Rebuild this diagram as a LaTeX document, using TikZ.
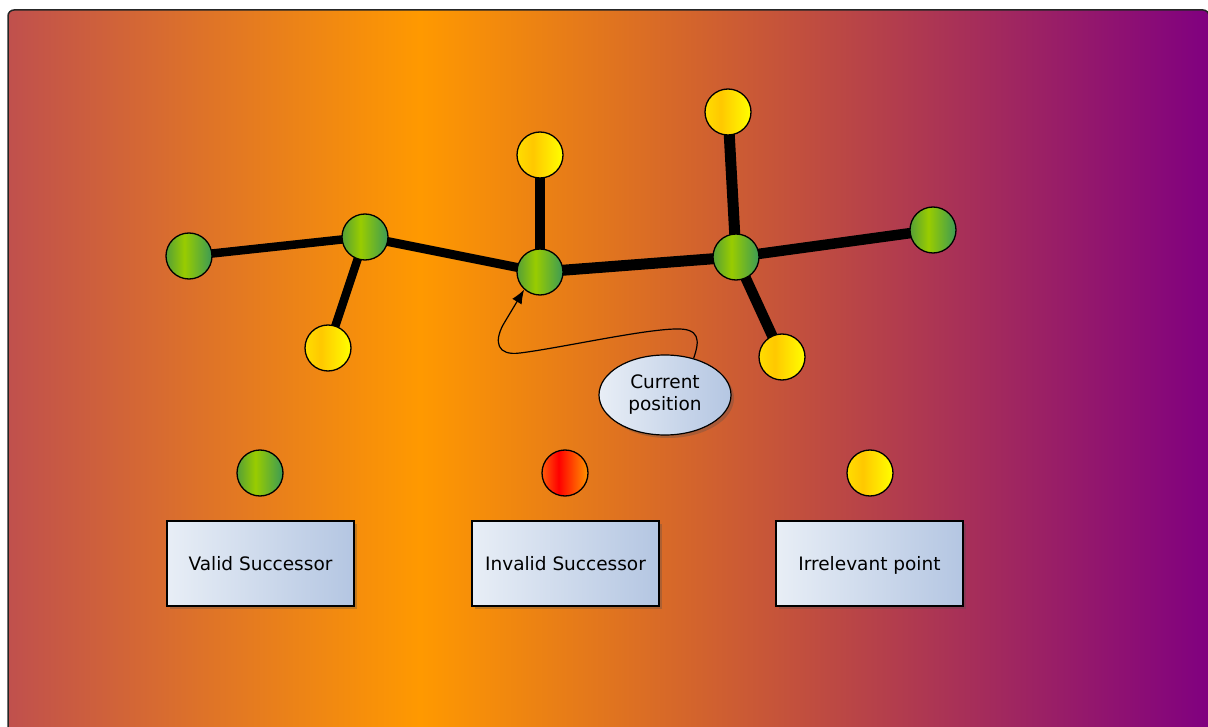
\documentclass[tikz,border=0pt]{standalone}
\usepackage{fontspec}
\setmainfont{DejaVu Sans}
\usetikzlibrary{shapes.geometric,shadows,arrows.meta}
\pgfdeclarelayer{bg}
\pgfdeclarelayer{edges}
\pgfsetlayers{bg,edges,main}
\definecolor{bgA}{RGB}{192,80,77}
\definecolor{bgB}{RGB}{255,153,0}
\definecolor{bgC}{RGB}{128,0,128}
\definecolor{gA}{RGB}{85,160,55}
\definecolor{gB}{RGB}{153,204,0}
\definecolor{gC}{RGB}{60,155,85}
\definecolor{yA}{RGB}{255,221,0}
\definecolor{yB}{RGB}{255,200,0}
\definecolor{yC}{RGB}{255,255,0}
\definecolor{rA}{RGB}{255,90,10}
\definecolor{rB}{RGB}{255,0,0}
\definecolor{rC}{RGB}{255,150,0}
\definecolor{boxA}{RGB}{232,238,246}
\definecolor{boxB}{RGB}{180,198,226}
\pgfdeclarehorizontalshading{bgshade}{100bp}{color(0bp)=(bgA); color(25bp)=(bgA); color(42.15bp)=(bgB); color(75bp)=(bgC); color(100bp)=(bgC)}
\pgfdeclarehorizontalshading{greenball}{100bp}{color(0bp)=(gA); color(25bp)=(gA); color(45bp)=(gB); color(75bp)=(gC); color(100bp)=(gC)}
\pgfdeclarehorizontalshading{yellowball}{100bp}{color(0bp)=(yA); color(25bp)=(yA); color(42bp)=(yB); color(75bp)=(yC); color(100bp)=(yC)}
\pgfdeclarehorizontalshading{redball}{100bp}{color(0bp)=(rA); color(25bp)=(rA); color(43bp)=(rB); color(75bp)=(rC); color(100bp)=(rC)}
\tikzset{
  ball/.style={circle, draw=black, line width=1.3pt, minimum size=46pt, inner sep=0pt},
  gball/.style={ball, shading=greenball},
  yball/.style={ball, shading=yellowball},
  rball/.style={ball, shading=redball},
  bond/.style={line width=#1, draw=black},
  legendbox/.style={rectangle, draw=black, line width=1.1pt, minimum width=187pt, minimum height=85pt,
    left color=boxA, right color=boxB, font=\fontsize{18.5}{22}\selectfont,
    text height=15pt, text depth=2pt,
    drop shadow={shadow xshift=3pt, shadow yshift=-3pt, fill=black!70, opacity=0.3}},
  bubble/.style={ellipse, draw=black, line width=1.2pt, minimum width=132pt, minimum height=80pt, inner sep=0pt,
    left color=boxA, right color=boxB, align=center, font=\fontsize{18.5}{22}\selectfont,
    drop shadow={shadow xshift=3pt, shadow yshift=-3pt, fill=black!70, opacity=0.3}},
  pointer/.style={line width=1.2pt, -{Latex[length=14pt,width=11pt]}}
}
\begin{document}
\begin{tikzpicture}[x=1pt,y=-1pt]
\useasboundingbox (0,0) rectangle (1208,727);
\clip (0,0) rectangle (1208,727);
\begin{pgfonlayer}{bg}
  \path[shading=bgshade, draw=black!85, line width=1.5pt, rounded corners=6pt] (8,10) rectangle (1209,745);
\end{pgfonlayer}
% molecule nodes
\node[gball] (g1) at (189,256) {};
\node[gball] (g2) at (365,237) {};
\node[yball] (y1) at (328,348) {};
\node[gball] (g3) at (540,272) {};
\node[yball] (y2) at (540,155) {};
\node[gball] (g4) at (736,257) {};
\node[yball] (y3) at (728,112) {};
\node[gball] (g5) at (933,230) {};
\node[yball] (y4) at (782,357) {};
\begin{pgfonlayer}{edges}
  \draw[bond=8.5pt] (g1.center) -- (g2.center);
  \draw[bond=8.5pt] (g2.center) -- (y1.center);
  \draw[bond=9pt] (g2.center) -- (g3.center);
  \draw[bond=10pt] (g3.center) -- (y2.center);
  \draw[bond=11pt] (g3.center) -- (g4.center);
  \draw[bond=11pt] (g4.center) -- (y3.center);
  \draw[bond=10.5pt] (g4.center) -- (g5.center);
  \draw[bond=10.5pt] (g4.center) -- (y4.center);
\end{pgfonlayer}
% callout
\node[bubble] (cur) at (665,395) {Current\\position};
\draw[pointer] (cur.52) .. controls (700,340) and (700,328) .. (675,329)
  .. controls (640,330) and (560,348) .. (520,353)
  .. controls (497,356) and (494,342) .. (503,325) -- (g3.228);
% legend
\node[gball] (lg) at (260,473) {};
\node[rball] (lr) at (565,473) {};
\node[yball] (ly) at (870,473) {};
\node[legendbox] (bv) at (260.5,563.5) {Valid Successor};
\node[legendbox] (bi) at (565.5,563.5) {Invalid Successor};
\node[legendbox] (bp) at (869.5,563.5) {Irrelevant point};
\end{tikzpicture}
\end{document}
